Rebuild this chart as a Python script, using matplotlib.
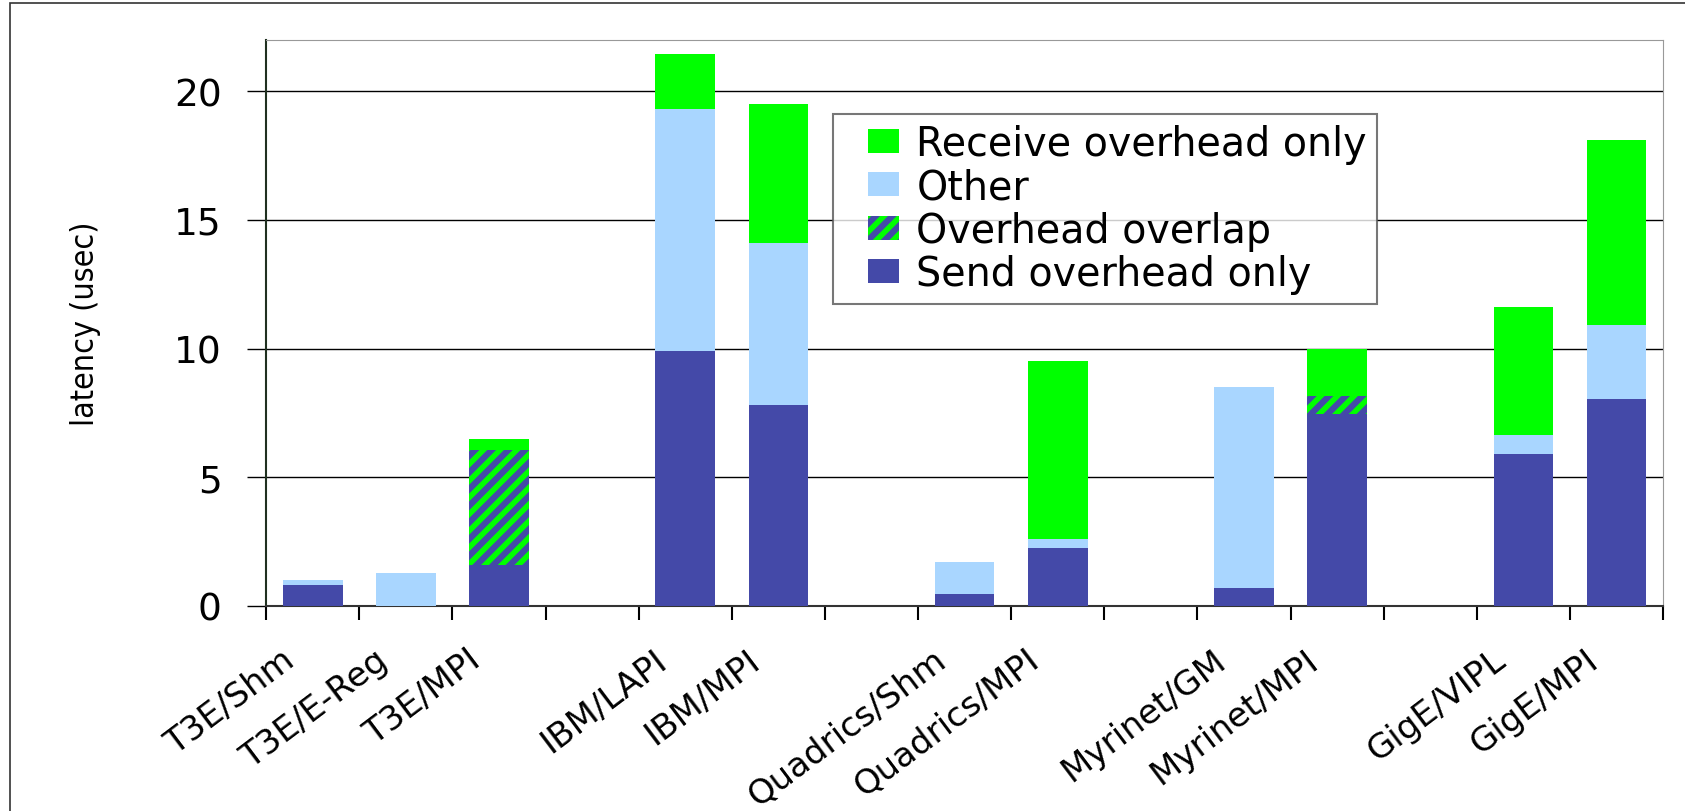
import matplotlib
matplotlib.use("Agg")
import matplotlib.pyplot as plt
import matplotlib.font_manager as fm
import matplotlib.transforms as mtransforms
from matplotlib.patches import Rectangle
from matplotlib.legend_handler import HandlerPatch
import numpy as np

# slots, '' = empty gap between machine groups
slots = ["T3E/Shm", "T3E/E-Reg", "T3E/MPI", "",
         "IBM/LAPI", "IBM/MPI", "",
         "Quadrics/Shm", "Quadrics/MPI", "",
         "Myrinet/GM", "Myrinet/MPI", "",
         "GigE/VIPL", "GigE/MPI"]
send_only = [0.8, 0.0, 1.6, 0, 9.9, 7.8, 0, 0.45, 2.25, 0, 0.7, 7.45, 0, 5.9, 8.05]
overlap   = [0.0, 0.0, 4.45, 0, 0.0, 0.0, 0, 0.0, 0.0, 0, 0.0, 0.7, 0, 0.0, 0.0]
other     = [0.2, 1.3, 0.0, 0, 9.4, 6.3, 0, 1.25, 0.35, 0, 7.8, 0.0, 0, 0.75, 2.85]
recv_only = [0.0, 0.0, 0.45, 0, 2.15, 5.4, 0, 0.0, 6.9, 0, 0.0, 1.85, 0, 4.95, 7.2]

c_send, c_other, c_recv = "#4449a8", "#a9d6ff", "#00ff00"

plt.rcParams["font.family"] = ["DejaVu Sans"]
plt.rcParams["hatch.linewidth"] = 4

installed = {f.name for f in fm.fontManager.ttflist}
if "Liberation Sans Narrow" in installed:
    ylab_kw = dict(family="Liberation Sans Narrow", fontsize=22)
else:
    ylab_kw = dict(family="DejaVu Sans", fontstretch="condensed", fontsize=23)

fig = plt.figure(figsize=(16.85, 8.12), dpi=100)
ax = fig.add_axes([0.158, 0.2525, 0.829, 0.6975])

x = np.arange(len(slots))
w = 0.64
send_only, overlap, other, recv_only = map(np.array, (send_only, overlap, other, recv_only))
b1 = ax.bar(x, send_only, w, color=c_send, linewidth=0, label="Send overhead only", zorder=3)
b2 = ax.bar(x, overlap, w, bottom=send_only, facecolor=c_send, edgecolor=c_recv,
            hatch="//", linewidth=0, label="Overhead overlap", zorder=3)
b3 = ax.bar(x, other, w, bottom=send_only + overlap, color=c_other, linewidth=0,
            label="Other", zorder=3)
b4 = ax.bar(x, recv_only, w, bottom=send_only + overlap + other, color=c_recv,
            linewidth=0, label="Receive overhead only", zorder=3)

ax.set_xlim(-0.5, len(slots) - 0.5)
ax.set_ylim(0, 22)
ax.set_yticks([0, 5, 10, 15, 20])
ax.tick_params(axis="y", labelsize=27, length=14, width=1, direction="out", pad=18)
ax.yaxis.grid(True, color="black", linewidth=1, zorder=0)
ax.set_axisbelow(True)

ax.set_xticks(x)
ax.set_xticklabels(slots, rotation=37, ha="right", va="center",
                   rotation_mode="anchor", fontsize=24.5)
ax.tick_params(axis="x", length=0, pad=36)
shift = mtransforms.ScaledTranslation(-22 / 100, 0, fig.dpi_scale_trans)
for lab in ax.get_xticklabels():
    lab.set_transform(lab.get_transform() + shift)
ax.set_xticks(np.arange(-0.5, len(slots)), minor=True)
ax.tick_params(axis="x", which="minor", length=10, width=1.5, direction="out")

for s in ("top", "right"):
    ax.spines[s].set_color("#999999")
ax.spines["left"].set_color("#203020")
ax.spines["left"].set_linewidth(1.5)
ax.spines["bottom"].set_color("#333333")
ax.spines["bottom"].set_linewidth(1.5)

ax.set_ylabel("latency (usec)", **ylab_kw)
ax.yaxis.set_label_coords(-0.118, 0.5)


def swatch(legend, orig_handle, xdescent, ydescent, width, height, fontsize):
    sw = 0.77 * fontsize
    return Rectangle((width - sw - xdescent, -ydescent), sw, height)


handles = [b4[0], b3[0], b2[0], b1[0]]
leg = ax.legend(handles,
                ["Receive overhead only", "Other", "Overhead overlap", "Send overhead only"],
                loc="upper left", bbox_to_anchor=(0.406, 0.868), fontsize=28.5,
                frameon=True, fancybox=False, handlelength=1.4, handleheight=0.55,
                handletextpad=0.45, labelspacing=0.08, borderpad=0.25, borderaxespad=0,
                handler_map={Rectangle: HandlerPatch(patch_func=swatch)})
leg.get_frame().set_edgecolor("#555555")
leg.get_frame().set_linewidth(1.5)

# outer frame around the whole chart
fig.patches.append(Rectangle((0.006, -0.05), 1.2, 1.045, transform=fig.transFigure,
                             fill=False, edgecolor="#333333", linewidth=1.2))

fig.savefig("out.png", dpi=100)
